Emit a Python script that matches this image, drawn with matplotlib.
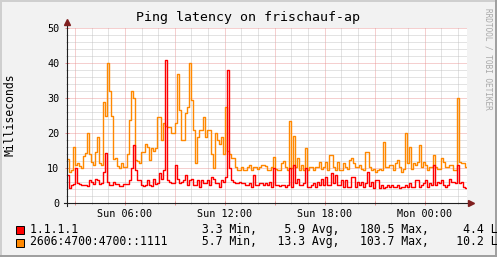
import numpy as np
import matplotlib
matplotlib.use('Agg')
import matplotlib.pyplot as plt
from matplotlib.lines import Line2D
from matplotlib.patches import Rectangle

# ping latency in ms, one value per 7.2 min step, starting Sun 02:32
red_ms = [
    8, 4.2, 5.1, 5.5, 10, 5.6, 5.5, 5.2, 5.2, 5.2,
    4.8, 6.6, 6, 5.3, 7, 6.5, 5.5, 5.8, 9, 14.2,
    6, 5.2, 5.2, 6, 5.5, 5.5, 5, 5, 5.3, 5.3,
    5.3, 6.5, 10, 16.6, 9.5, 6.5, 6.5, 5.2, 5, 5.2,
    6.5, 5.2, 5, 7, 5.5, 5.8, 8.5, 7, 9.5, 41,
    6.6, 6, 5.6, 5.6, 10.9, 7, 5.6, 6, 6.6, 8,
    5.1, 6.6, 7, 5.1, 5.1, 6.6, 4.7, 6.6, 5.6, 5.6,
    6.6, 5.1, 7.5, 7, 5.6, 5.6, 4.7, 6.6, 6, 7.5,
    38, 10, 6.6, 6, 5.6, 5.6, 6, 5.6, 5.6, 5.1,
    5.1, 5.6, 4.7, 8, 5.1, 5.1, 5.6, 5.6, 5.1, 5.6,
    5.1, 6, 4.7, 10, 5.1, 5.1, 4.8, 5.1, 5.1, 4.7,
    5.1, 10, 4.7, 10.9, 5.6, 7, 5.1, 5.1, 5.6, 10,
    4.7, 4.7, 5.1, 5.6, 4.7, 6, 5.1, 7, 5.1, 7.5,
    5.1, 5.1, 8.5, 5.6, 8, 5.1, 5.1, 6.6, 4.7, 6.6,
    4.7, 4.7, 7.5, 7.5, 4.7, 6, 5.1, 6, 4.7, 5.6,
    9, 5, 6, 4.2, 6.6, 6.6, 4.2, 5.1, 4.2, 4.7,
    5.1, 4.7, 5.1, 4.7, 4.7, 5.1, 4.2, 4.7, 4.7, 5.1,
    4.7, 5.6, 4.7, 4.7, 6.6, 6.6, 4.7, 5.1, 5.6, 6.6,
    4.7, 5.6, 5.1, 10.9, 5.1, 6, 5.6, 6.6, 5.1, 4.7,
    5.1, 7, 6, 6, 5.6, 10.9, 5.6, 6, 4.7, 4.2,
]
orange_ms = [
    12.5, 9, 9.5, 16, 11, 11.5, 10.5, 10, 13.5, 14.2,
    20, 14, 11.8, 11, 14.5, 19, 11.5, 11, 29, 25,
    40, 32, 25, 12.5, 13, 10.5, 10, 11.3, 10.4, 10.4,
    14, 23.7, 32, 30, 12.3, 12, 11.3, 14.7, 14.7, 17,
    16, 12.3, 15.6, 15, 15.6, 24.7, 24.7, 18, 22.8, 22,
    21.8, 21.8, 20, 20, 22.8, 37, 26.6, 18, 18, 25.6,
    27.5, 40, 29.4, 20.9, 11.3, 19, 20.9, 20.9, 24.7, 19,
    20.9, 20.9, 14, 10, 20, 18, 17, 19, 14, 27.5,
    15, 14, 12.8, 12.8, 10.4, 9.4, 9.4, 10.4, 9.4, 9.4,
    10.4, 11, 9.5, 10.4, 10.4, 9.8, 10.4, 10.8, 11, 10.5,
    9.4, 9.4, 10.4, 13.2, 9.8, 9.4, 9.4, 11.3, 12, 10.4,
    9.4, 23.4, 10, 19.1, 10.4, 12.8, 9.4, 10.8, 9.4, 15.6,
    9.4, 10.4, 10.4, 9.4, 10.4, 10.4, 11.8, 9.8, 10.4, 11.8,
    9.4, 13.7, 13.7, 10.4, 9.4, 11.8, 9.4, 9.4, 11.3, 10.4,
    9.8, 12.3, 13, 11.3, 10.4, 10.4, 10.8, 9.8, 9.4, 14.7,
    14.7, 10.4, 9.4, 9.8, 9, 9.4, 9.8, 9.4, 17.5, 10.4,
    10.4, 10.8, 10.8, 9.4, 11.3, 12.3, 10.4, 9, 9.8, 20,
    11.3, 16, 9.8, 11.3, 10.8, 11.8, 16.6, 10.4, 11.8, 10.8,
    9.4, 10.4, 10.4, 13.7, 10.4, 9.8, 9.8, 12.8, 11.8, 10.4,
    10.4, 10.8, 10.8, 9.4, 9.4, 30, 11.8, 11.3, 11.3, 10.4,
]
start_h = 2.53
step_h = 0.12

series_names = ['1.1.1.1', '2606:4700:4700::1111']
series_colors = ['#ff0000', '#ff8800']
min_ms = [3.3, 5.7]
avg_ms = [5.9, 13.3]
max_ms = [180.5, 103.7]
last_ms = [4.4, 10.2]

xtick_hours = [3, 6, 9, 12, 15, 18, 21, 24]
xtick_labels = ['', 'Sun 06:00', '', 'Sun 12:00', '', 'Sun 18:00', '', 'Mon 00:00']

W, H = 497, 257
plt.rcParams['font.family'] = 'DejaVu Sans Mono'
plt.rcParams['lines.scale_dashes'] = False

fig = plt.figure(figsize=(W / 100, H / 100), dpi=100, facecolor='#f2f2f2')
ax = fig.add_axes([67 / W, (H - 203) / H, 400 / W, 175 / H])
ax.set_facecolor('white')

t = start_h + step_h * np.arange(len(red_ms) + 1)
ax.plot(t, orange_ms + orange_ms[-1:], drawstyle='steps-post',
        color=series_colors[1], lw=1.0, zorder=3)
ax.plot(t, red_ms + red_ms[-1:], drawstyle='steps-post',
        color=series_colors[0], lw=1.0, zorder=4)

ax.set_xlim(start_h, start_h + 24)
ax.set_ylim(0, 50)

grid_c = '#bdbdbd'
mgrid_c = '#e88e8e'
dots = (0, (0.72, 0.72))
ax.set_xticks(xtick_hours)
ax.set_xticklabels(xtick_labels)
ax.set_xticks(np.arange(3, 27, 1), minor=True)
ax.set_yticks(np.arange(0, 51, 10))
ax.set_yticks(np.arange(0, 51, 2), minor=True)
ax.grid(which='minor', color=grid_c, ls=dots, lw=0.6)
ax.grid(which='major', color=mgrid_c, ls=dots, lw=0.6)
ax.set_axisbelow(True)
ax.tick_params(which='major', direction='inout', length=3, width=0.7, color=mgrid_c,
               labelsize=7.3, pad=3)
ax.tick_params(which='minor', direction='inout', length=2, width=0.7, color=grid_c)
ax.tick_params(axis='y', which='major', pad=4)
for s in ax.spines.values():
    s.set_visible(False)

# axis lines with arrow heads
axis_c = (0.12, 0.12, 0.12)
arrow_c = (0.5, 0.12, 0.12)
ax.plot([-0.008, 1.008], [0, 0], transform=ax.transAxes, color=axis_c, lw=0.8, clip_on=False, zorder=5)
ax.plot([0, 0], [-0.015, 1.03], transform=ax.transAxes, color=axis_c, lw=0.8, clip_on=False, zorder=5)
ax.plot([1.011], [0], marker='>', ms=4, color=arrow_c, transform=ax.transAxes, clip_on=False, zorder=6)
ax.plot([0], [1.035], marker='^', ms=4, color=arrow_c, transform=ax.transAxes, clip_on=False, zorder=6)

fig.text(247.5 / W, 1 - 18 / H, 'Ping latency on frischauf-ap', ha='center', va='center', fontsize=9.5)
fig.text(10 / W, 1 - 115 / H, 'Milliseconds', rotation=90, ha='center', va='center', fontsize=8.3)
fig.text(488 / W, 1 - 59 / H, 'RRDTOOL / TOBI OETIKER', rotation=-90, ha='center', va='center',
         fontsize=5.6, color='#a8a8a8')

# legend rows; the last column runs past the right edge as in rrdtool's output
row_y = [229, 242]
for i in range(2):
    fig.add_artist(Rectangle((15.5 / W, (H - row_y[i] - 4.5) / H), 8 / W, 8 / H,
                             transform=fig.transFigure, facecolor=series_colors[i],
                             edgecolor='black', lw=0.7))
    line = (f"{series_names[i]:<20}{min_ms[i]:8.1f} Min,{avg_ms[i]:7.1f} Avg,"
            f"{max_ms[i]:8.1f} Max,{last_ms[i]:8.1f} Last")
    fig.text(30 / W, 1 - row_y[i] / H, line, ha='left', va='center', fontsize=8.3)

# 3d frame around the image
shade_a = '#cfcfcf'
shade_b = '#9e9e9e'
fig.add_artist(Line2D([0, 1], [1 - 0.5 / H] * 2, transform=fig.transFigure, color=shade_a, lw=1.4))
fig.add_artist(Line2D([0.5 / W] * 2, [0, 1], transform=fig.transFigure, color=shade_a, lw=1.4))
fig.add_artist(Line2D([0, 1], [1 / H] * 2, transform=fig.transFigure, color=shade_b, lw=1.4))
fig.add_artist(Line2D([1 - 1 / W] * 2, [0, 1], transform=fig.transFigure, color=shade_b, lw=1.4))

fig.savefig('out.png', dpi=100, facecolor=fig.get_facecolor())
